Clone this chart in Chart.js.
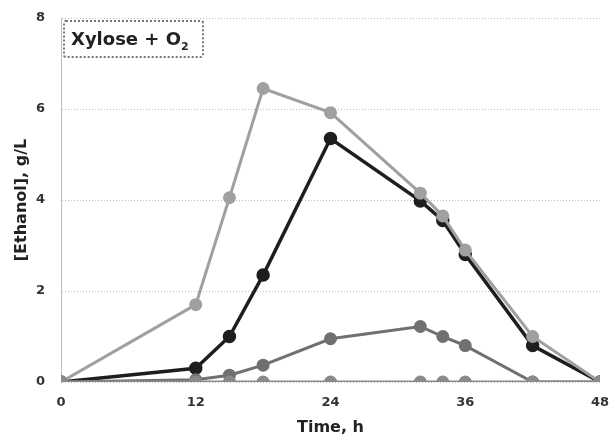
<!DOCTYPE html>
<html><head><meta charset="utf-8">
<script src="https://cdn.jsdelivr.net/npm/chart.js@4/dist/chart.umd.min.js"></script>
<style>
html,body{margin:0;padding:0;background:#fff;}
#wrap{position:relative;width:610px;height:445px;}
#legend{position:absolute;left:63px;top:20px;width:125px;height:26px;padding:4px 6px;border:2px dotted #777;border-radius:3px;
font:bold 18px "DejaVu Sans",sans-serif;color:#222;background:#fff;white-space:nowrap;line-height:26px;}
#legend sub{font-size:11px;}
</style></head>
<body><div id="wrap"><canvas id="c" width="610" height="445"></canvas>
<div id="legend">Xylose + O<sub>2</sub></div></div>
<script>
const times = [0, 12, 15, 18, 24, 32, 34, 36, 42, 48];
const seriesHigh = [0, 1.7, 4.05, 6.45, 5.92, 4.15, 3.65, 2.9, 1.0, 0];
const seriesDark = [0, 0.3, 1.0, 2.35, 5.35, 3.98, 3.55, 2.8, 0.8, 0];
const seriesLow = [0, 0.05, 0.15, 0.37, 0.95, 1.22, 1.0, 0.8, 0, 0];
const seriesZero = [0, 0, 0, 0, 0, 0, 0, 0, 0, 0];
const xTicks = [0, 12, 24, 36, 48];
const yTicks = [0, 2, 4, 6, 8];

const toXY = arr => arr.map((v, i) => ({x: times[i], y: v}));
const fam = '"DejaVu Sans", sans-serif';
const font = {family: fam, weight: 'bold', size: 13};

function ds(data, color, width) {
  return {data: toXY(data), borderColor: color, backgroundColor: color, borderWidth: width,
    pointRadius: 5, pointHoverRadius: 5, pointStyle: 'circle', tension: 0};
}

new Chart(document.getElementById('c'), {
  type: 'line',
  data: {datasets: [
    ds(seriesZero, '#8a8a8a', 3),
    ds(seriesLow, '#707070', 3),
    ds(seriesHigh, '#a0a0a0', 3),
    ds(seriesDark, '#1e1e1e', 3.5)
  ]},
  options: {
    responsive: false, animation: false,
    layout: {padding: {top: 18, right: 10, left: 0, bottom: 0}},
    plugins: {legend: {display: false}, tooltip: {enabled: false}},
    scales: {
      x: {type: 'linear', min: 0, max: 48,
        afterBuildTicks: s => { s.ticks = xTicks.map(v => ({value: v})); },
        ticks: {font: font, color: '#333', padding: 5, maxRotation: 0},
        grid: {display: false},
        border: {display: false},
        title: {display: true, text: 'Time, h', font: {family: fam, weight: 'bold', size: 16}, color: '#222', padding: {top: 2, bottom: 8}},
        afterFit: s => { s.height = 63; s.paddingLeft = 0; s.paddingRight = 0; }
      },
      y: {min: 0, max: 8,
        afterBuildTicks: s => { s.ticks = yTicks.map(v => ({value: v})); },
        ticks: {font: font, color: '#333', padding: 16},
        grid: {color: '#bdbdbd', lineWidth: 1, drawTicks: false},
        border: {display: true, color: '#bdbdbd', dash: [1, 2]},
        title: {display: true, text: '[Ethanol], g/L', font: {family: fam, weight: 'bold', size: 16}, color: '#222', padding: {top: 12, bottom: 0}},
        afterFit: s => { s.width = 61; s.paddingTop = 0; s.paddingBottom = 0; }
      }
    }
  }
});
</script></body></html>
